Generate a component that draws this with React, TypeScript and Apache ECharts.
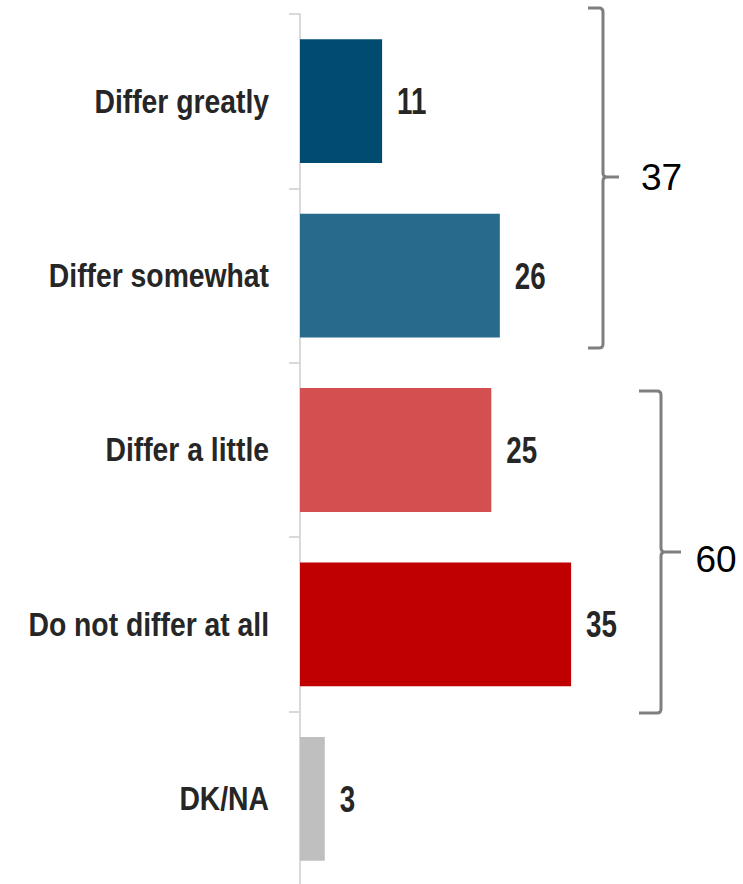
import React, { useEffect, useRef } from "react";
import * as echarts from "echarts";

const categories = ["Differ greatly", "Differ somewhat", "Differ a little", "Do not differ at all", "DK/NA"];
const values = [10.6, 25.8, 24.7, 35.0, 3.2];
const barColors = ["#004C70", "#286A8B", "#D44F50", "#C00000", "#BFBFBF"];
const bracketTotals = ["37", "60"];

const FONT = "'Liberation Sans', Arial, sans-serif";

function bracketPath(x0: number, x1: number, xn: number, y0: number, ym: number, y1: number) {
  const r = 4;
  return [
    `M${x0} ${y0} L${x1 - r} ${y0} Q${x1} ${y0} ${x1} ${y0 + r}`,
    `L${x1} ${ym - r} Q${x1} ${ym} ${x1 + r} ${ym} L${xn} ${ym}`,
    `M${x1 + r} ${ym} Q${x1} ${ym} ${x1} ${ym + r}`,
    `L${x1} ${y1 - r} Q${x1} ${y1} ${x1 - r} ${y1} L${x0} ${y1}`,
  ].join(" ");
}

echarts.graphic.registerShape("bracketA", echarts.graphic.extendPath(bracketPath(588, 603, 619, 8, 177, 348), {}));
echarts.graphic.registerShape("bracketB", echarts.graphic.extendPath(bracketPath(639, 661, 681, 391, 552, 713), {}));

export default function App() {
  const ref = useRef<HTMLDivElement>(null);
  useEffect(() => {
    if (!ref.current) return;
    const chart = echarts.init(ref.current, undefined, { renderer: "svg" });
    chart.setOption({
      animation: false,
      backgroundColor: "#ffffff",
      grid: { left: 300, top: 14, width: 426, height: 872, containLabel: false, outerBoundsMode: "none" },
      xAxis: {
        type: "value",
        min: 0,
        max: 55,
        show: false,
        splitLine: { show: false },
      },
      yAxis: {
        type: "category",
        data: categories,
        inverse: true,
        axisLine: { show: true, lineStyle: { color: "#D9D9D9", width: 2 } },
        axisTick: { show: true, length: 11, lineStyle: { color: "#D9D9D9", width: 2 } },
        axisLabel: { show: false },
      },
      series: [
        {
          type: "bar",
          data: values.map((v, i) => ({ value: v, itemStyle: { color: barColors[i] } })),
          barCategoryGap: "29%",
          z: 2,
        },
        {
          type: "custom",
          coordinateSystem: "cartesian2d",
          data: values.map((v, i) => [v, i]),
          encode: { x: 0, y: 1 },
          z: 5,
          silent: true,
          renderItem: (params: any, api: any) => {
            const v = api.value(0);
            const idx = api.value(1);
            const base = api.coord([0, idx]);
            const end = api.coord([v, idx]);
            return {
              type: "group",
              children: [
                {
                  type: "text",
                  x: base[0] - 31,
                  y: base[1],
                  scaleX: 0.845,
                  style: {
                    text: categories[idx],
                    font: `bold 33.5px ${FONT}`,
                    fill: "#262626",
                    align: "right",
                    verticalAlign: "middle",
                  },
                },
                {
                  type: "text",
                  x: end[0] + 15,
                  y: end[1],
                  scaleX: 0.75,
                  style: {
                    text: String(Math.round(v)),
                    font: `bold 37px ${FONT}`,
                    fill: "#262626",
                    align: "left",
                    verticalAlign: "middle",
                  },
                },
              ],
            };
          },
        },
      ],
      graphic: [
        { type: "bracketA", x: 0, y: 0, style: { stroke: "#7F7F7F", lineWidth: 3, fill: null } },
        { type: "bracketB", x: 0, y: 0, style: { stroke: "#7F7F7F", lineWidth: 3, fill: null } },
        {
          type: "text",
          x: 641,
          y: 177,
          style: { text: bracketTotals[0], font: `37px ${FONT}`, fill: "#000000", textVerticalAlign: "middle" },
        },
        {
          type: "text",
          x: 695.5,
          y: 559,
          style: { text: bracketTotals[1], font: `37px ${FONT}`, fill: "#000000", textVerticalAlign: "middle" },
        },
      ],
    });
    return () => chart.dispose();
  }, []);
  return <div ref={ref} style={{ position: "fixed", left: 0, top: 0, width: 743, height: 884 }} />;
}
